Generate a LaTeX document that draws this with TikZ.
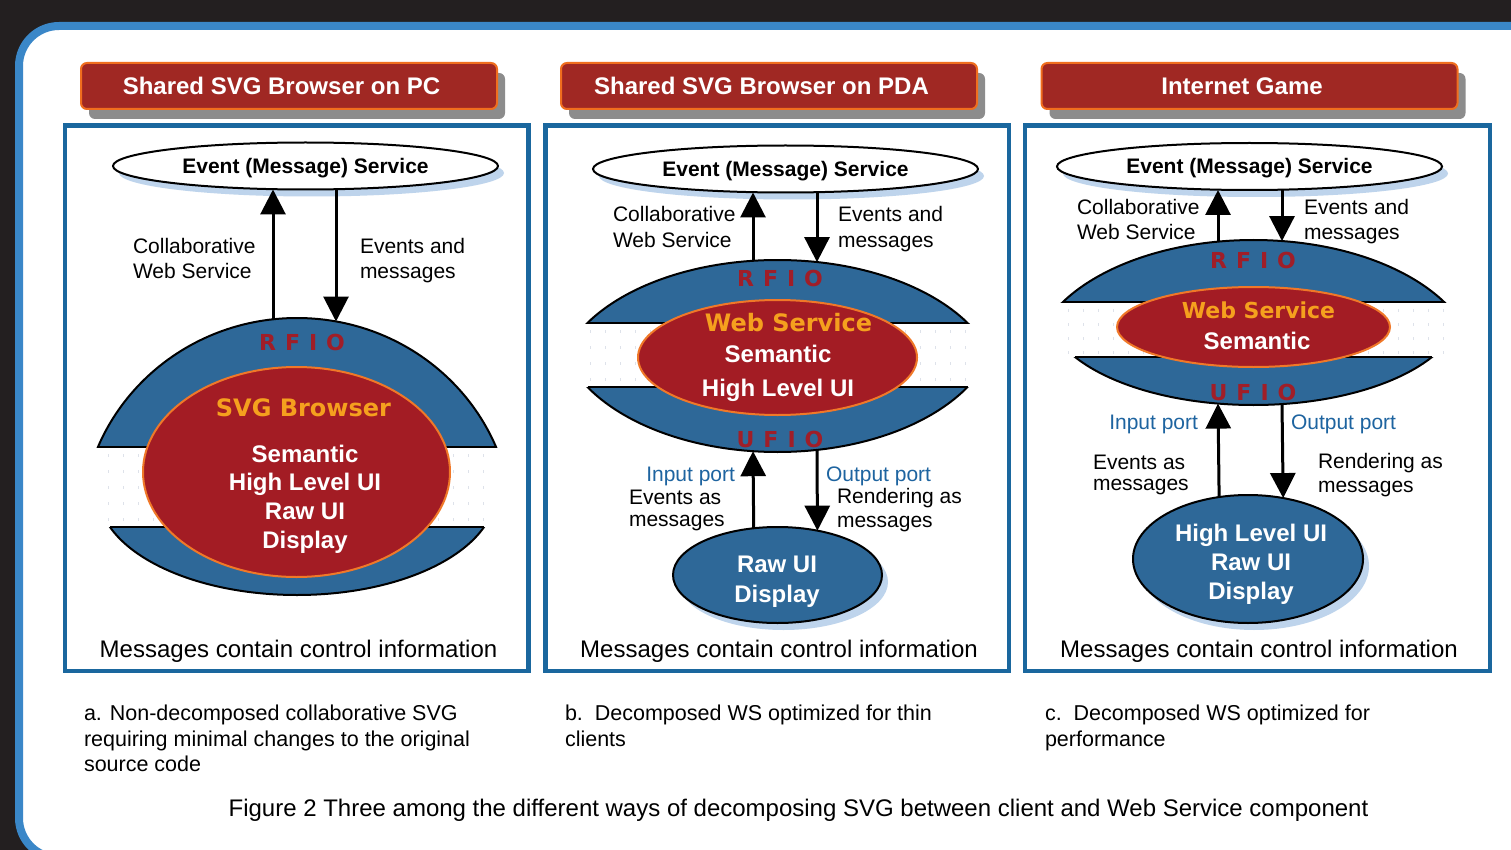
\documentclass[tikz,border=0pt]{standalone}
\usepackage{fontspec}
\setmainfont{Liberation Sans}
\newfontfamily\vsans{DejaVu Sans}
\usetikzlibrary{arrows.meta,shapes.geometric,shadows}

\definecolor{bgdark}{RGB}{35,31,32}
\definecolor{frameblue}{RGB}{58,135,200}
\definecolor{panelblue}{RGB}{26,103,158}
\definecolor{titlered}{RGB}{160,40,35}
\definecolor{titleorange}{RGB}{240,110,30}
\definecolor{ringblue}{RGB}{46,104,152}
\definecolor{corered}{RGB}{163,28,36}
\definecolor{coreedge}{RGB}{240,120,40}
\definecolor{coretext}{RGB}{245,160,30}
\definecolor{fiotext}{RGB}{160,30,40}
\definecolor{porttext}{RGB}{30,100,160}
\definecolor{shadowblue}{RGB}{190,212,236}
\definecolor{shadowgray}{RGB}{140,140,140}
\definecolor{dotc}{RGB}{222,226,234}

\tikzset{
  every node/.style={inner sep=0pt,outer sep=0pt},
  titlebox/.style={rectangle,rounded corners=6pt,draw=titleorange,line width=2pt,
    fill=titlered,text=white,font=\fontsize{24}{28}\selectfont\bfseries,
    minimum width=416pt,minimum height=46pt,
    drop shadow={shadow xshift=8pt,shadow yshift=-10pt,fill=shadowgray,opacity=1}},
  panel/.style={draw=panelblue,line width=4.5pt},
  service/.style={ellipse,draw=black,line width=2pt,fill=white,
    minimum width=385pt,minimum height=47pt,text height=15pt,text depth=0pt,
    font=\fontsize{21}{25}\selectfont\bfseries,
    drop shadow={shadow xshift=6pt,shadow yshift=-7pt,fill=shadowblue,opacity=1}},
  ring/.style={fill=ringblue,draw=black,line width=2pt},
  ringedge/.style={draw=black,line width=2pt},
  core/.style={ellipse,draw=coreedge,line width=2pt,fill=corered},
  client/.style={ellipse,draw=black,line width=2pt,fill=ringblue,
    drop shadow={shadow xshift=6pt,shadow yshift=-7pt,fill=shadowblue,opacity=1}},
  coretitle/.style={anchor=base,text=coretext,font=\vsans\fontsize{24}{28}\selectfont\bfseries},
  corebody/.style={anchor=north,text=white,align=center,font=\fontsize{24}{28.7}\selectfont\bfseries},
  fio/.style={anchor=base,text=fiotext,font={\vsans\fontsize{22}{26}\selectfont\bfseries\spaceskip=9pt\relax}},
  lab/.style={anchor=north west,align=left,font=\fontsize{21}{25.5}\selectfont},
  port/.style={anchor=base,text=porttext,font=\fontsize{21}{25}\selectfont},
  note/.style={anchor=base,font=\fontsize{24}{28}\selectfont},
  capt/.style={anchor=north west,align=left,font=\fontsize{21.5}{25.5}\selectfont},
  arr/.style={line width=3pt,-{Triangle[width=25pt,length=25pt]}},
  dot/.style={fill=dotc}
}

% upper part of a ring: centre, radii, cut line (above the centre)
\newcommand\ringtop[5]{%
  \pgfmathsetmacro\rhw{#3*sqrt(1-((#2-#5)/#4)^2)}%
  \begin{scope}
    \clip (#1-#3-5,#5) rectangle (#1+#3+5,#2-#4-5);
    \path[ring] (#1,#2) ellipse [x radius=#3, y radius=#4];
  \end{scope}
  \draw[ringedge] (#1-\rhw,#5) -- (#1+\rhw,#5);
}
% lower part of a ring: centre, radii, cut line (below the centre)
\newcommand\ringbottom[5]{%
  \pgfmathsetmacro\rhw{#3*sqrt(1-((#5-#2)/#4)^2)}%
  \begin{scope}
    \clip (#1-#3-5,#5) rectangle (#1+#3+5,#2+#4+5);
    \path[ring] (#1,#2) ellipse [x radius=#3, y radius=#4];
  \end{scope}
  \draw[ringedge] (#1-\rhw,#5) -- (#1+\rhw,#5);
}

\begin{document}
\begin{tikzpicture}[x=1pt,y=-1pt]
\useasboundingbox (0,0) rectangle (1511,850);
\clip (0,0) rectangle (1511,850);
\fill[bgdark] (0,0) rectangle (1511,850);
\draw[frameblue,line width=8pt,fill=white,rounded corners=40pt] (19,26) rectangle (1600,858);

% ---------- headings ----------
\node[titlebox] (t1) at (289,86) {Shared SVG Browser on PC\kern15pt};
\node[titlebox] (t2) at (769,86) {Shared SVG Browser on PDA\kern15pt};
\node[titlebox] (t3) at (1249.5,86) {Internet Game\kern15pt};

% ---------- panel frames ----------
\draw[panel] (65,125.5) rectangle (528.5,671);
\draw[panel] (545.5,125.5) rectangle (1009,671);
\draw[panel] (1025,125.5) rectangle (1490,671);

% ---------- event services ----------
\node[service] (es1) at (305.5,166) {Event (Message) Service};
\node[service] (es2) at (785.5,169) {Event (Message) Service};
\node[service] (es3) at (1249.5,166.5) {Event (Message) Service};

% ================= panel a =================
\foreach \px in {108,123,...,488} \foreach \py in {455,471,487,503,519}
  \fill[dot] (\px-0.5,\py-1.5) rectangle (\px+0.5,\py+1.5);
\ringtop{297}{527}{215.4}{209}{447}
\ringbottom{297}{492}{198.8}{103}{527}
\node[core,minimum width=307pt,minimum height=210pt] (c1) at (296.5,472) {};
\node[fio] (f1) at (302,350.5) {R F I O};
\node[coretitle] (c1t) at (303.5,416.5) {SVG Browser};
\node[corebody] (c1b) at (305,444.7) {Semantic\\High Level UI\\Raw UI\\Display};

\coordinate (a1u) at (273,319.3);
\coordinate (a1d) at (336,321.5);
\draw[arr] (a1u) -- (a1u |- es1.south);
\draw[arr] (a1d |- es1.south) -- (a1d);
\node[lab] (l1a) at (133,238.1) {Collaborative\\Web Service};
\node[lab] (l1b) at (360,238.1) {Events and\\messages};
\node[note] (n1) at (298.5,657.5) {Messages contain control information};

% ================= panel b =================
\foreach \px in {590,605,...,965} \foreach \py in {331,347,363,379}
  \fill[dot] (\px-0.5,\py-1.5) rectangle (\px+0.5,\py+1.5);
\ringtop{777.5}{388}{220.6}{128}{323}
\ringbottom{777.5}{322}{219.4}{130}{387}
\node[core,minimum width=279pt,minimum height=115pt] (c2) at (777.5,357.5) {};
\node[fio] (f2) at (780,286.7) {R F I O};
\node[fio] (g2) at (780,447.5) {U F I O};
\node[coretitle] (c2t) at (788.5,331.5) {Web Service};
\node[corebody,font=\fontsize{24}{34}\selectfont\bfseries] (c2b) at (778,345.2) {Semantic\\High Level UI};

\node[client,minimum width=209pt,minimum height=96pt] (u2) at (777.5,575) {};
\node[corebody,font=\fontsize{24}{29.4}\selectfont\bfseries] (u2t) at (777,556.3) {Raw UI\\Display};

\coordinate (a2u) at (753,260.8);
\coordinate (a2d) at (817,262.1);
\coordinate (b2u) at (753,451.2);
\coordinate (b2d) at (817,449.9);
\draw[arr] (a2u) -- (a2u |- es2.south);
\draw[arr] (a2d |- es2.south) -- (a2d);
\draw[arr] (u2.117.7) -- (b2u);
\draw[arr] (b2d) -- (u2.48.37);
\node[lab] (l2a) at (613,206.3) {Collaborative\\Web Service};
\node[lab] (l2b) at (838,206.3) {Events and\\messages};
\node[port,anchor=base east] (p2a) at (735,481) {Input port};
\node[port,anchor=base west] (p2b) at (826,481) {Output port};
\node[lab,font=\fontsize{21}{22}\selectfont] (l2c) at (629,489.8) {Events as\\messages};
\node[lab,font=\fontsize{21}{24}\selectfont] (l2d) at (837,488.3) {Rendering as\\messages};
\node[note] (n2) at (779,657.5) {Messages contain control information};

% ================= panel c =================
\foreach \px in {1068,1083,...,1448} \foreach \py in {310,324,338,352}
  \fill[dot] (\px-0.5,\py-1.5) rectangle (\px+0.5,\py+1.5);
\ringtop{1253.5}{367}{221.8}{127}{302}
\ringbottom{1253.5}{307}{207.5}{98}{357}
\node[core,minimum width=273pt,minimum height=80pt] (c3) at (1253.5,327) {};
\node[fio] (f3) at (1253,268.3) {R F I O};
\node[fio] (g3) at (1253,400.7) {U F I O};
\node[coretitle,font=\vsans\fontsize{22}{26}\selectfont\bfseries] (c3t) at (1258.5,318) {Web Service};
\node[coretitle,text=white,font=\fontsize{24}{28}\selectfont\bfseries] (c3b) at (1257,349.3) {Semantic};

\node[client,minimum width=230pt,minimum height=128pt] (u3) at (1248,559) {};
\node[corebody,font=\fontsize{24}{29}\selectfont\bfseries] (u3t) at (1251,524.5) {High Level UI\\Raw UI\\Display};

\coordinate (a3u) at (1218,241.6);
\coordinate (a3d) at (1282,241.05);
\coordinate (b3u) at (1218,403.6);
\coordinate (b3d) at (1282,404.1);
\draw[arr] (a3u) -- (a3u |- es3.south);
\draw[arr] (a3d |- es3.south) -- (a3d);
\draw[arr] (u3.115.91) -- (b3u);
\draw[arr] (b3d) -- (u3.60.92);
\node[lab] (l3a) at (1077,198.8) {Collaborative\\Web Service};
\node[lab] (l3b) at (1304,198.8) {Events and\\messages};
\node[port,anchor=base east] (p3a) at (1198,429) {Input port};
\node[port,anchor=base west] (p3b) at (1291,429) {Output port};
\node[lab,font=\fontsize{21}{21}\selectfont] (l3c) at (1093,454.8) {Events as\\messages};
\node[lab,font=\fontsize{21}{24}\selectfont] (l3d) at (1318,453.1) {Rendering as\\messages};
\node[note] (n3) at (1259,657.5) {Messages contain control information};

% ---------- captions ----------
\node[capt] (ca) at (84,705.2) {a. Non-decomposed collaborative SVG\\requiring minimal changes to the original\\source code};
\node[capt] (cb) at (565,705.2) {b.\ \ Decomposed WS optimized for thin\\clients};
\node[capt] (cc) at (1045,705.2) {c.\ \ Decomposed WS optimized for\\performance};
\node[anchor=base,font=\fontsize{24}{28}\selectfont] (fig) at (798.5,816)
  {Figure 2 Three among the different ways of decomposing SVG between client and Web Service component};
\end{tikzpicture}
\end{document}
